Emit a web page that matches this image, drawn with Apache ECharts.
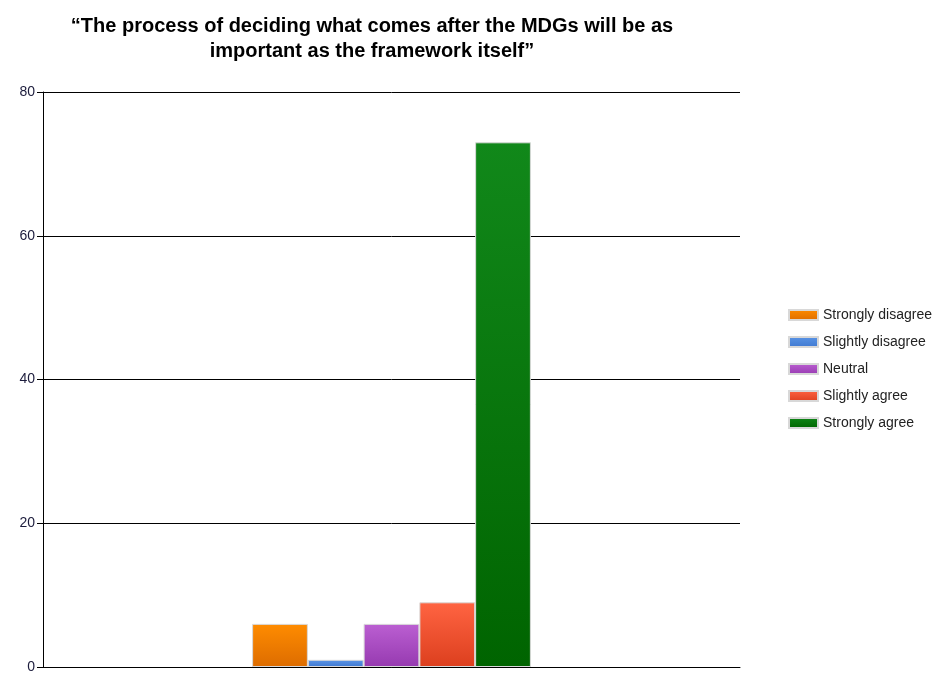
<!DOCTYPE html>
<html>
<head>
<meta charset="utf-8">
<script src="https://cdn.jsdelivr.net/npm/echarts@6/dist/echarts.min.js"></script>
<style>
  html, body { margin: 0; padding: 0; background: #fff; }
  #chart { width: 933px; height: 674px; }
</style>
</head>
<body>
<div id="chart"></div>
<script>
var categories = ['']
var seriesNames = ['Strongly disagree', 'Slightly disagree', 'Neutral', 'Slightly agree', 'Strongly agree']
var seriesValues = [6, 1, 6, 9, 73]
var yTicks = [0, 20, 40, 60, 80]

// top / bottom gradient colours per series
var topColors = ['#ff8c00', '#5b95e6', '#bb5fd2', '#ff6442', '#11881a']
var bottomColors = ['#dd6c00', '#3f78d0', '#963ab0', '#dc3f1e', '#006400']

function grad(i) {
    return new echarts.graphic.LinearGradient(0, 0, 0, 1, [
        {offset: 0, color: topColors[i]},
        {offset: 1, color: bottomColors[i]}
    ])
}

var series = seriesNames.map(function (name, i) {
    return {
        name: name,
        type: 'bar',
        data: [seriesValues[i]],
        barGap: '0%',
        barCategoryGap: '60%',
        itemStyle: {
            color: grad(i),
            borderColor: '#d8d8d8',
            borderWidth: 1
        }
    }
})

var option = {
    backgroundColor: '#fff',
    animation: false,
    title: {
        text: '\u201CThe process of deciding what comes after the MDGs will be as\nimportant as the framework itself\u201D',
        left: 367,
        top: 9,
        textAlign: 'center',
        textStyle: {
            fontFamily: 'Liberation Sans',
            fontSize: 20,
            fontWeight: 'bold',
            color: '#000',
            lineHeight: 25,
            align: 'center'
        }
    },
    legend: {
        orient: 'vertical',
        left: 783,
        top: 303,
        itemWidth: 29,
        itemHeight: 10,
        itemGap: 13,
        icon: 'rect',
        textStyle: {
            fontFamily: 'Liberation Sans',
            fontSize: 14,
            color: '#222'
        },
        data: seriesNames
    },
    grid: {
        left: 43,
        right: 193,
        top: 92,
        bottom: 1
    },
    xAxis: {
        type: 'category',
        data: categories,
        axisLine: {lineStyle: {color: '#000', width: 1}},
        axisTick: {alignWithLabel: true, length: 8, lineStyle: {color: '#000'}},
        axisLabel: {show: false}
    },
    yAxis: {
        type: 'value',
        min: yTicks[0],
        max: yTicks[yTicks.length - 1],
        interval: 20,
        axisLine: {show: true, lineStyle: {color: '#000', width: 1}},
        axisTick: {show: true, length: 6, lineStyle: {color: '#000'}},
        axisLabel: {
            fontFamily: 'Liberation Sans',
            fontSize: 14,
            color: '#1c1c3c',
            margin: 8
        },
        splitLine: {lineStyle: {color: '#000', width: 1}}
    },
    series: series
}

var myChart = echarts.init(document.getElementById('chart'))
myChart.setOption(option)
</script>
</body>
</html>
